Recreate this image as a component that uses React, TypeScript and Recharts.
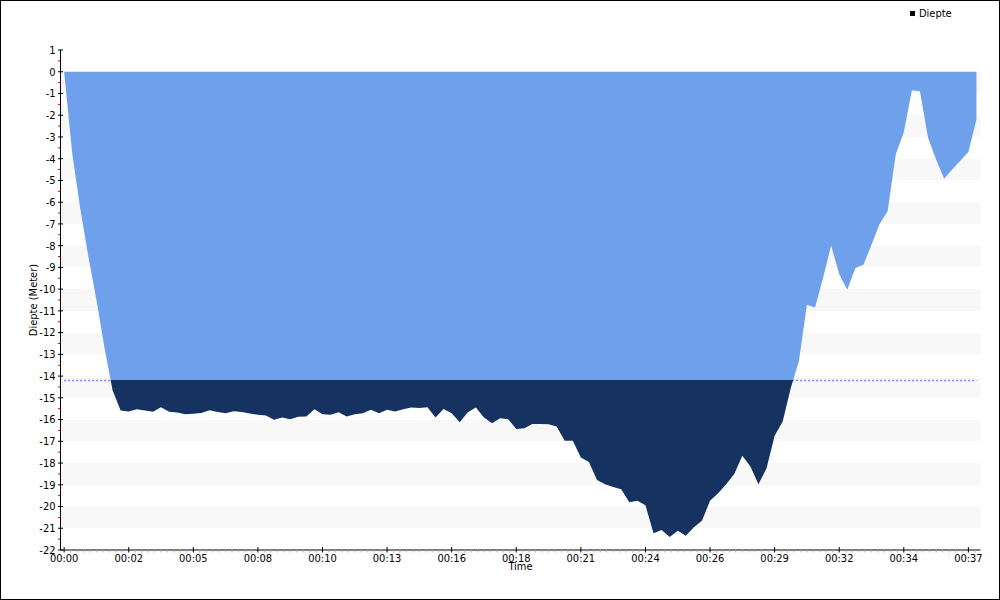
import React from 'react';
import { Area, AreaChart, CartesianGrid, Label, ReferenceLine, XAxis, YAxis } from 'recharts';

// dive samples, one every 20 seconds
const SAMPLE_SECONDS = 20;
const depth = [
    0, -3.75, -6.3, -8.5, -10.5, -12.7, -14.65, -15.58, -15.63, -15.52,
    -15.58, -15.64, -15.43, -15.64, -15.67, -15.75, -15.73, -15.7, -15.57, -15.65,
    -15.71, -15.62, -15.65, -15.72, -15.78, -15.81, -16.01, -15.9, -15.98, -15.87,
    -15.86, -15.52, -15.75, -15.78, -15.66, -15.86, -15.75, -15.71, -15.55, -15.71,
    -15.55, -15.63, -15.53, -15.45, -15.47, -15.43, -15.9, -15.51, -15.71, -16.12,
    -15.66, -15.45, -15.9, -16.17, -15.94, -15.98, -16.43, -16.4, -16.2, -16.2,
    -16.22, -16.32, -16.97, -16.98, -17.75, -17.95, -18.78, -18.97, -19.1, -19.2,
    -19.8, -19.74, -19.94, -21.23, -21.08, -21.4, -21.12, -21.34, -20.95, -20.65,
    -19.74, -19.39, -18.97, -18.5, -17.67, -18.16, -18.97, -18.24, -16.75, -16.09,
    -14.55, -13.33, -10.72, -10.84, -9.49, -7.99, -9.31, -10.03, -9.03, -8.88,
    -7.96, -7.0, -6.42, -3.81, -2.78, -0.85, -0.9, -3.04, -4.04, -4.92,
    -4.5, -4.09, -3.69, -2.2,
];

// depth where the fill turns dark (dotted line)
const threshold = -14.2;

const majorTimeTicks = [0, 160, 320, 480, 640, 800, 960, 1120, 1280, 1440, 1600, 1760, 1920, 2080, 2240];
const timeDomain = [-9, 2270];
const minorTimeStep = 16;

const majorDepthTicks = [
    1, 0, -1, -2, -3, -4, -5, -6, -7, -8, -9, -10, -11,
    -12, -13, -14, -15, -16, -17, -18, -19, -20, -21, -22,
];

const data = depth.map((d, i) => ({ time: i * SAMPLE_SECONDS, depth: d }));

const allTimeTicks: number[] = [];
for (let t = 0; t <= timeDomain[1]; t += minorTimeStep) allTimeTicks.push(t);

const allDepthTicks: number[] = [];
majorDepthTicks.forEach((v, i) => {
    allDepthTicks.push(v);
    if (i < majorDepthTicks.length - 1) allDepthTicks.push(v - 0.5);
});

const FONT = '"DejaVu Sans Condensed", "Liberation Sans", sans-serif';

const fmtTime = (t: number) => `00:${String(Math.floor(t / 60)).padStart(2, '0')}`;

const TimeTick = ({ x, y, payload }: any) => {
    const t = payload.value;
    if (!majorTimeTicks.includes(t)) {
        return <line x1={x} x2={x} y1={y} y2={y + 2.5} stroke="#b0b0b0" />;
    }
    return (
        <g>
            <line x1={x} x2={x} y1={y - 3} y2={y + 2.5} stroke="#000" />
            <text x={x} y={y + 12} textAnchor="middle" fontSize={11} fontFamily={FONT} fill="#000">
                {fmtTime(t)}
            </text>
        </g>
    );
};

const DepthTick = ({ x, y, payload }: any) => {
    const v = payload.value;
    if (!Number.isInteger(v)) {
        return <line x1={x - 2.5} x2={x} y1={y} y2={y} stroke="#e00000" />;
    }
    return (
        <g>
            <line x1={x - 2.5} x2={x + 2.5} y1={y} y2={y} stroke="#000" />
            <text x={x - 5} y={y} dy="0.35em" textAnchor="end" fontSize={11} fontFamily={FONT} fill="#000">
                {v}
            </text>
        </g>
    );
};

const App: React.FC = () => {
    const top = Math.max(...depth);
    const bottom = Math.min(...depth);
    const split = (top - threshold) / (top - bottom);

    return (
        <div style={{ position: 'absolute', left: 0, top: 0, width: 1000, height: 600, background: '#fff' }}>
            <AreaChart width={1000} height={600} data={data} margin={{ top: 50, right: 19.5, bottom: 0, left: 0 }}>
                <defs>
                    <linearGradient id="depthFill" x1="0" y1="0" x2="0" y2="1">
                        <stop offset={0} stopColor="#6fa0ec" />
                        <stop offset={split} stopColor="#6fa0ec" />
                        <stop offset={split} stopColor="#163260" />
                        <stop offset={1} stopColor="#163260" />
                    </linearGradient>
                </defs>
                <CartesianGrid
                    vertical={false}
                    stroke="transparent"
                    horizontalValues={majorDepthTicks}
                    horizontalFill={['#ffffff', '#f8f8f8']}
                />
                <XAxis
                    dataKey="time"
                    type="number"
                    domain={timeDomain}
                    ticks={allTimeTicks}
                    interval={0}
                    height={50}
                    tickSize={0}
                    tickMargin={0}
                    tickLine={false}
                    tick={<TimeTick />}
                    stroke="#000"
                >
                    <Label value="Time" position="insideTop" offset={12} fontSize={11} fontFamily={FONT} fill="#000" />
                </XAxis>
                <YAxis
                    type="number"
                    domain={[-22, 1]}
                    ticks={allDepthTicks}
                    interval={0}
                    width={60.5}
                    tickSize={0}
                    tickMargin={0}
                    tickLine={false}
                    tick={<DepthTick />}
                    stroke="#000"
                >
                    <Label value="Diepte (Meter)" angle={-90} position="center" dx={3} fontSize={11} fontFamily={FONT} fill="#000" />
                </YAxis>
                <ReferenceLine
                    segment={[{ x: data[0].time, y: threshold }, { x: data[data.length - 1].time, y: threshold }]}
                    stroke="#8484ff"
                    strokeWidth={1.5}
                    strokeDasharray="2 2"
                    zIndex={50}
                />
                <Area
                    type="linear"
                    dataKey="depth"
                    stroke="none"
                    fill="url(#depthFill)"
                    fillOpacity={1}
                    dot={false}
                    activeDot={false}
                    isAnimationActive={false}
                />
            </AreaChart>
            <div
                style={{
                    position: 'absolute', left: 910, top: 7, display: 'flex', alignItems: 'center',
                    fontFamily: FONT, fontSize: 11, color: '#000',
                }}
            >
                <span style={{ width: 5, height: 5, background: '#000', marginRight: 4, display: 'inline-block' }} />
                Diepte
            </div>
            <div
                style={{
                    position: 'absolute', left: 0, top: 0, width: 1000, height: 600,
                    boxSizing: 'border-box', border: '1px solid #000', pointerEvents: 'none',
                }}
            />
        </div>
    );
};

export default App;
